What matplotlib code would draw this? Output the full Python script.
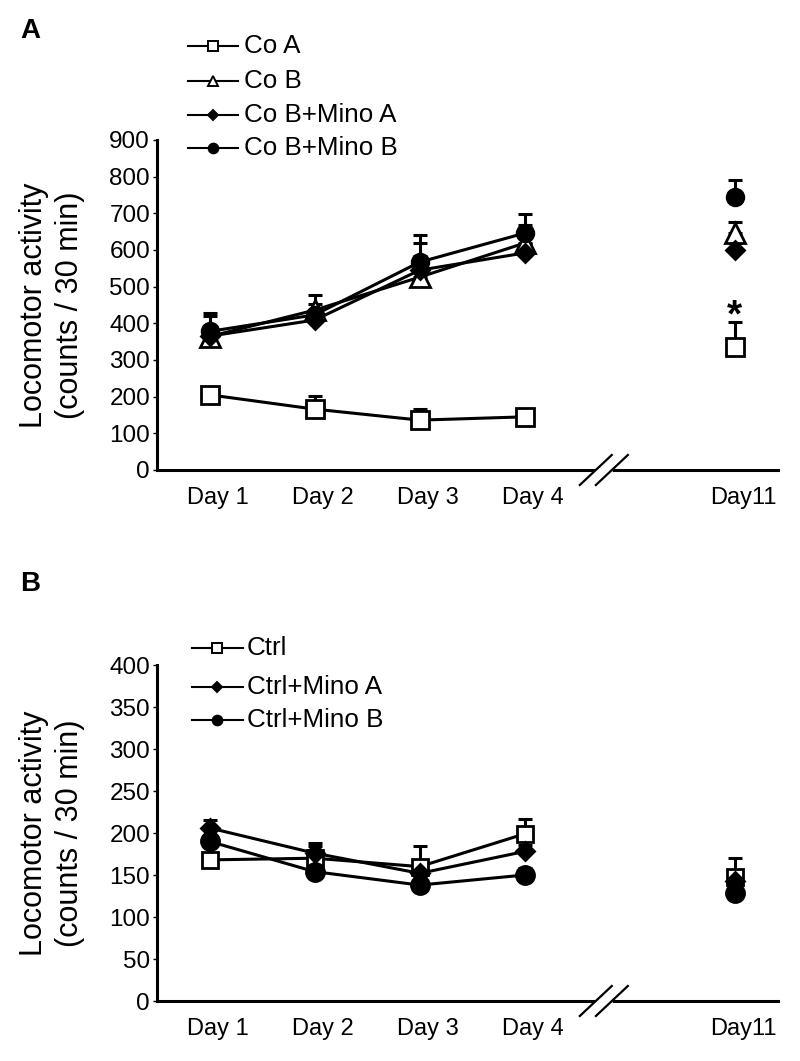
import numpy as np
import matplotlib
matplotlib.use("Agg")
import matplotlib.pyplot as plt
from matplotlib.lines import Line2D
from matplotlib.transforms import ScaledTranslation

plt.rcParams['font.family'] = ['Liberation Sans', 'DejaVu Sans']

# x positions (Day11 sits after the axis break)
days = [1, 2, 3, 4, 6]
day_labels = ['Day 1', 'Day 2', 'Day 3', 'Day 4', 'Day11']

# Panel A: cocaine groups
co_a = [205, 166, 136, 145, 335]
co_a_err = [15, 36, 30, 10, 69]
co_b = [364, 436, 526, 619, 646]
co_b_err = [64, 41, 93, 49, 30]
co_b_mino_a = [365, 409, 545, 592, 600]
co_b_mino_a_err = [25, 25, 40, 25, 20]
co_b_mino_b = [378, 423, 567, 646, 744]
co_b_mino_b_err = [42, 30, 74, 52, 46]

# Panel B: control groups
ctrl = [168, 170, 160, 199, 148]
ctrl_err = [8, 18, 25, 18, 22]
ctrl_mino_a = [206, 176, 152, 178, 143]
ctrl_mino_a_err = [9, 8, 8, 8, 8]
ctrl_mino_b = [190, 154, 138, 150, 129]
ctrl_mino_b_err = [8, 8, 8, 8, 8]

W, H = 800, 1061
fig = plt.figure(figsize=(W / 100, H / 100), dpi=100)


def px(x, y):
    return x / W, 1 - y / H


def add_axes(top, bottom):
    return fig.add_axes([157 / W, 1 - bottom / H, (778 - 157) / W, (bottom - top) / H])


axA = add_axes(140, 470)
axB = add_axes(665, 1001)

LW = 2.2
styles_a = [
    (co_a, co_a_err, dict(marker='s', ms=12.5, mfc='white')),
    (co_b, co_b_err, dict(marker='^', ms=14, mfc='white')),
    (co_b_mino_a, co_b_mino_a_err, dict(marker='D', ms=9.5, mfc='black')),
    (co_b_mino_b, co_b_mino_b_err, dict(marker='o', ms=12, mfc='black')),
]
styles_b = [
    (ctrl, ctrl_err, dict(marker='s', ms=12, mfc='white')),
    (ctrl_mino_a, ctrl_mino_a_err, dict(marker='D', ms=9.5, mfc='black')),
    (ctrl_mino_b, ctrl_mino_b_err, dict(marker='o', ms=13, mfc='black')),
]


def draw(ax, styles, ymax, ystep):
    x = np.array(days)
    for vals, err, st in styles:
        vals = np.array(vals, float)
        ax.errorbar(x, vals, yerr=[np.zeros_like(vals), err], fmt='none',
                    ecolor='black', elinewidth=LW, capsize=4.7, capthick=LW, zorder=2)
        # connected line for days 1-4 only, day 11 as lone point
        ax.plot(x[:4], vals[:4], color='black', lw=LW, mec='black', mew=2,
                zorder=3, clip_on=False, **st)
        ax.plot(x[4:], vals[4:], color='black', lw=0, mec='black', mew=2,
                zorder=3, clip_on=False, **st)
    ax.set_xlim(0.5, 6.41)
    ax.set_ylim(0, ymax)
    ax.set_yticks(np.arange(0, ymax + 1, ystep))
    ax.set_xticks(days)
    ax.set_xticklabels(day_labels)
    for sp in ['top', 'right']:
        ax.spines[sp].set_visible(False)
    for sp in ['left', 'bottom']:
        ax.spines[sp].set_linewidth(LW)
    ax.tick_params(axis='y', length=3, width=1, labelsize=17.5, pad=2, direction='out')
    ax.tick_params(axis='x', length=0, labelsize=17, pad=12)
    off = ScaledTranslation(8 / 100, 0, fig.dpi_scale_trans)
    for lab in ax.get_xticklabels():
        lab.set_transform(lab.get_transform() + off)
    # axis break marks
    tr = ax.get_xaxis_transform()
    hh = 15 / (ax.bbox.height)
    ax.plot([4.70, 4.81], [0, 0], color='white', lw=4, transform=tr,
            clip_on=False, zorder=4)
    for cx in (4.676, 4.829):
        ax.plot([cx - 0.152, cx + 0.152], [-hh, hh], color='black', lw=1.6,
                transform=tr, clip_on=False, zorder=5)


draw(axA, styles_a, 900, 100)
draw(axB, styles_b, 400, 50)

# significance star
axA.text(6, 420, '*', ha='center', va='center', fontsize=28, fontweight='bold')

# y labels
for yc in ((140 + 470) / 2, (665 + 1001) / 2):
    fig.text(*px(52, yc), 'Locomotor activity\n(counts / 30 min)', rotation=90,
             ha='center', va='center', fontsize=22, linespacing=1.3,
             multialignment='center')

# panel letters
fig.text(*px(20, 31), 'A', fontsize=20, fontweight='bold', va='center', ha='left')
fig.text(*px(20, 584), 'B', fontsize=20, fontweight='bold', va='center', ha='left')

# hand-drawn legends
leg_a = [('Co A', 's', 'white', 6.5), ('Co B', '^', 'white', 7.5),
         ('Co B+Mino A', 'D', 'black', 5.5), ('Co B+Mino B', 'o', 'black', 7)]
leg_b = [('Ctrl', 's', 'white', 6.5), ('Ctrl+Mino A', 'D', 'black', 5.5),
         ('Ctrl+Mino B', 'o', 'black', 7)]


def legend(entries, rows, x0, x1, xt):
    for (lab, mk, fc, ms), y in zip(entries, rows):
        xa, ya = px(x0, y)
        xb, _ = px(x1, y)
        fig.add_artist(Line2D([xa, xb], [ya, ya], color='black', lw=1.5,
                              transform=fig.transFigure))
        fig.add_artist(Line2D([(xa + xb) / 2], [ya], marker=mk, ms=ms, mfc=fc,
                              mec='black', mew=1.4, lw=0, transform=fig.transFigure))
        fig.text(*px(xt, y), lab, fontsize=18.7, va='center', ha='left')


legend(leg_a, [46, 81, 115, 148], 188, 238, 244)
legend(leg_b, [648, 687, 720], 192, 243, 247)

fig.savefig('out.png', dpi=100)
